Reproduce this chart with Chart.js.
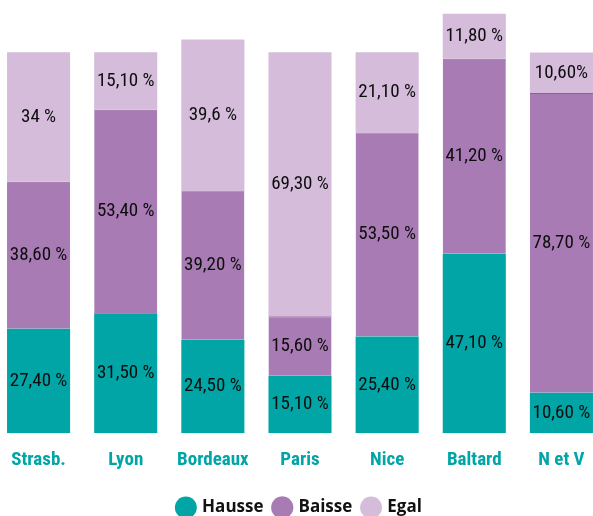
<!DOCTYPE html>
<html>
<head>
<meta charset="utf-8">
<script src="https://cdn.jsdelivr.net/npm/chart.js@4"></script>
<style>
  html, body { margin: 0; padding: 0; background: #fff; overflow: hidden; }
  #wrap { position: absolute; left: -5px; top: 0; width: 610px; height: 526px; }
</style>
</head>
<body>
<div id="wrap"><canvas id="evolution"></canvas></div>
<script>
const categories = ["Strasb.", "Lyon", "Bordeaux", "Paris", "Nice", "Baltard", "N et V"];

// hauteurs (en %)
const hausse = [27.4, 31.5, 24.5, 15.1, 25.4, 47.1, 10.6];
const baisse = [38.6, 53.4, 39.2, 15.6, 53.5, 51.2, 78.7];
const egal = [34, 15.1, 39.6, 69.3, 21.1, 11.8, 10.6];

// textes affichés dans les barres
const hausseLabels = ["27,40 %", "31,50 %", "24,50 %", "15,10 %", "25,40 %", "47,10 %", "10,60 %"];
const baisseLabels = ["38,60 %", "53,40 %", "39,20 %", "15,60 %", "53,50 %", "41,20 %", "78,70 %"];
const egalLabels = ["34 %", "15,10 %", "39,6 %", "69,30 %", "21,10 %", "11,80 %", "10,60%"];

const teal = "#01a5a6";
const violet = "#a97bb4";
const lilas = "#d5bcdb";
const condensee = "'Roboto Condensed', 'Open Sans Condensed', sans-serif";

// écrit les valeurs au milieu de chaque segment
const valeursPlugin = {
    id: "valeurs",
    afterDatasetsDraw(chart) {
        const ctx = chart.ctx;
        ctx.save();
        ctx.font = "19px " + condensee;
        ctx.fillStyle = "#0d0d0d";
        ctx.textAlign = "center";
        ctx.textBaseline = "middle";
        chart.data.datasets.forEach((ds, i) => {
            const meta = chart.getDatasetMeta(i);
            meta.data.forEach((bar, j) => {
                const y = (bar.y + bar.base) / 2;
                ctx.fillText(ds.textes[j], bar.x, y);
            });
        });
        ctx.restore();
    }
};

const ctx = document.getElementById("evolution").getContext("2d");
const graphique = new Chart(ctx, {
    type: "bar",
    data: {
        labels: categories,
        datasets: [
            {
                label: "Hausse",
                data: hausse,
                textes: hausseLabels,
                backgroundColor: teal,
                borderWidth: 0
            },
            {
                label: "Baisse",
                data: baisse,
                textes: baisseLabels,
                backgroundColor: violet,
                borderColor: "#8e5f9c",
                borderWidth: { top: 1, right: 0, bottom: 0, left: 0 },
                borderSkipped: false
            },
            {
                label: "Egal",
                data: egal,
                textes: egalLabels,
                backgroundColor: lilas,
                borderWidth: 0
            }
        ]
    },
    options: {
        responsive: true,
        maintainAspectRatio: false,
        animation: false,
        layout: { padding: 0 },
        datasets: {
            bar: { categoryPercentage: 1, barPercentage: 0.724 }
        },
        scales: {
            x: {
                stacked: true,
                grid: { display: false, drawTicks: false },
                border: { display: false },
                ticks: {
                    color: teal,
                    padding: 16,
                    maxRotation: 0,
                    minRotation: 0,
                    autoSkip: false,
                    font: { family: condensee, size: 19, weight: "bold" }
                }
            },
            y: {
                stacked: true,
                display: false,
                min: 0,
                max: 113.7
            }
        },
        plugins: {
            tooltip: { enabled: false },
            legend: {
                position: "bottom",
                labels: {
                    usePointStyle: true,
                    pointStyle: "circle",
                    boxHeight: 15.5,
                    boxWidth: 15.5,
                    padding: 11,
                    color: "#111",
                    font: { family: "'Open Sans', sans-serif", size: 17, weight: "bold" }
                }
            }
        }
    },
    plugins: [valeursPlugin]
});
</script>
</body>
</html>
